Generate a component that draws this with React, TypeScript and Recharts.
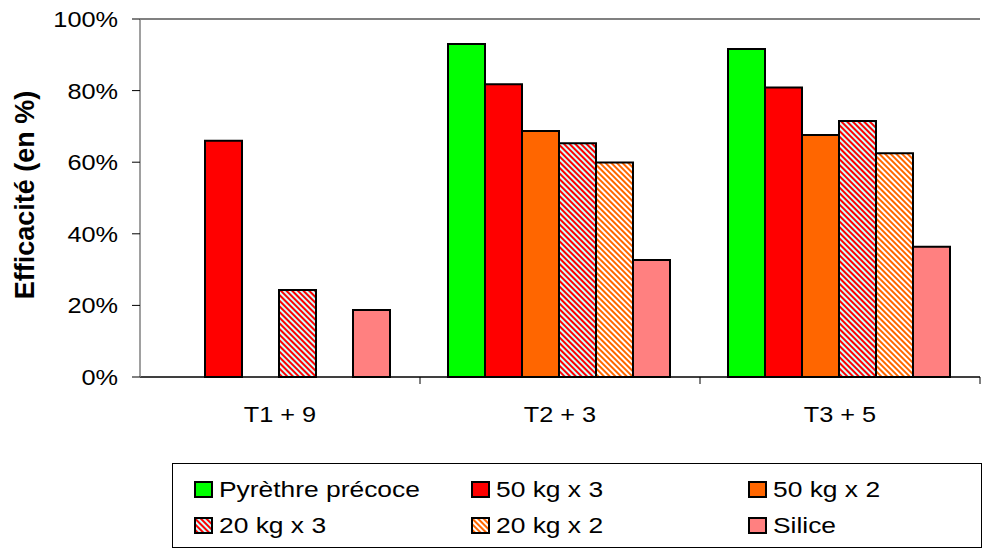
import React from 'react';
import { BarChart, Bar, XAxis, YAxis, CartesianGrid, Legend, ReferenceLine } from 'recharts';

const categories = ['T1 + 9', 'T2 + 3', 'T3 + 5'];
const pyrethre = [null, 0.93, 0.916];
const kg50x3 = [0.66, 0.818, 0.809];
const kg50x2 = [null, 0.687, 0.676];
const kg20x3 = [0.243, 0.653, 0.715];
const kg20x2 = [null, 0.599, 0.625];
const silice = [0.187, 0.327, 0.364];
const yTicks = [0, 0.2, 0.4, 0.6, 0.8, 1];

const seriesDefs = [
  { key: 'pyrethre', name: 'Pyrèthre précoce', values: pyrethre, fill: '#00FF00' },
  { key: 'kg50x3', name: '50 kg x 3', values: kg50x3, fill: '#FF0000' },
  { key: 'kg50x2', name: '50 kg x 2', values: kg50x2, fill: '#FF6600' },
  { key: 'kg20x3', name: '20 kg x 3', values: kg20x3, fill: 'url(#p20x3)' },
  { key: 'kg20x2', name: '20 kg x 2', values: kg20x2, fill: 'url(#p20x2)' },
  { key: 'silice', name: 'Silice', values: silice, fill: '#FF8080' },
];
const seriesNames = seriesDefs.map((s) => s.name);

const data = categories.map((c, i) => {
  const row: any = { cat: c };
  seriesDefs.forEach((s) => { row[s.key] = s.values[i]; });
  return row;
});

const FONT = '"Liberation Sans", Arial, sans-serif';
const BAND = 280;

const XTick = (props: any) => {
  const { x, y, payload } = props;
  return (
    <g>
      <line x1={x + BAND / 2} y1={y} x2={x + BAND / 2} y2={y + 7} stroke="#000" strokeWidth={1} />
      <text transform={`translate(${x},${y + 45}) scale(1.15,1)`} textAnchor="middle" fontFamily={FONT} fontSize={22} fill="#000">
        {payload.value}
      </text>
    </g>
  );
};

const YTick = (props: any) => {
  const { x, y, payload } = props;
  return (
    <text transform={`translate(${x},${y + 8}) scale(1.15,1)`} textAnchor="end" fontFamily={FONT} fontSize={22} fill="#000">
      {`${Math.round(payload.value * 100)}%`}
    </text>
  );
};

const LegendContent = (props: any) => {
  const { payload } = props;
  const items = [...(payload || [])].sort(
    (a: any, b: any) => seriesNames.indexOf(a.value) - seriesNames.indexOf(b.value)
  );
  return (
    <svg width={811} height={86} style={{ display: 'block' }}>
      <rect x={0.5} y={0.5} width={809} height={84} fill="#fff" stroke="#000" strokeWidth={1} />
      {items.map((entry: any, i: number) => {
        const col = i % 3;
        const row = Math.floor(i / 3);
        const sx = 23 + col * 277;
        const sy = 19 + row * 36;
        return (
          <g key={entry.value}>
            <rect x={sx} y={sy} width={17} height={15} fill={entry.color} stroke="#000" strokeWidth={2} />
            <text transform={`translate(${sx + 24},${sy + 15}) scale(1.2,1)`} fontFamily={FONT} fontSize={22} fill="#000">
              {entry.value}
            </text>
          </g>
        );
      })}
    </svg>
  );
};

export default function App() {
  return (
    <div style={{ position: 'absolute', left: 0, top: 0, width: 995, height: 551, background: '#fff' }}>
      <BarChart
        width={995}
        height={551}
        data={data}
        margin={{ top: 19, right: 15, left: 0, bottom: 134 }}
        barCategoryGap="10%"
        barGap={0}
      >
        <defs>
          <pattern id="p20x3" patternUnits="userSpaceOnUse" width={4} height={4} patternTransform="rotate(-45)">
            <rect x={0} y={0} width={4} height={4} fill="#CCFFFF" />
            <rect x={0} y={0} width={2} height={4} fill="#FF0000" />
          </pattern>
          <pattern id="p20x2" patternUnits="userSpaceOnUse" width={4} height={4} patternTransform="rotate(-45)">
            <rect x={0} y={0} width={4} height={4} fill="#FFFFFF" />
            <rect x={0} y={0} width={2} height={4} fill="#FF6600" />
          </pattern>
        </defs>
        <CartesianGrid vertical={false} stroke="#000" strokeWidth={1} />
        <ReferenceLine yAxisId="left" y={1} stroke="#808080" strokeWidth={1.5} />
        <XAxis
          dataKey="cat"
          height={40}
          tickLine={false}
          tickSize={0}
          tickMargin={0}
          axisLine={{ stroke: '#000', strokeWidth: 1 }}
          tick={<XTick />}
          interval={0}
        />
        <YAxis
          yAxisId="left"
          width={140}
          domain={[0, 1]}
          ticks={yTicks}
          interval={0}
          tickSize={8}
          tickMargin={14}
          axisLine={{ stroke: '#808080', strokeWidth: 1.5 }}
          tickLine={{ stroke: '#000' }}
          tick={<YTick />}
          label={{
            content: () => (
              <text
                transform="translate(25,195) rotate(-90)"
                textAnchor="middle"
                dominantBaseline="central"
                fontFamily={FONT}
                fontWeight="bold"
                fontSize={27}
                fill="#000"
              >
                Efficacité (en %)
              </text>
            ),
          }}
        />
        <YAxis
          yAxisId="right"
          orientation="right"
          width={0}
          domain={[0, 1]}
          tick={false}
          tickLine={false}
          axisLine={{ stroke: '#808080', strokeWidth: 1.5 }}
        />
        {seriesDefs.map((s) => (
          <Bar
            key={s.key}
            yAxisId="left"
            dataKey={s.key}
            name={s.name}
            fill={s.fill}
            stroke="#000"
            strokeWidth={2}
            isAnimationActive={false}
          />
        ))}
        <Legend
          layout="horizontal"
          align="center"
          verticalAlign="middle"
          wrapperStyle={{ left: 172, top: 463, width: 811, height: 86 }}
          content={<LegendContent />}
        />
      </BarChart>
    </div>
  );
}
